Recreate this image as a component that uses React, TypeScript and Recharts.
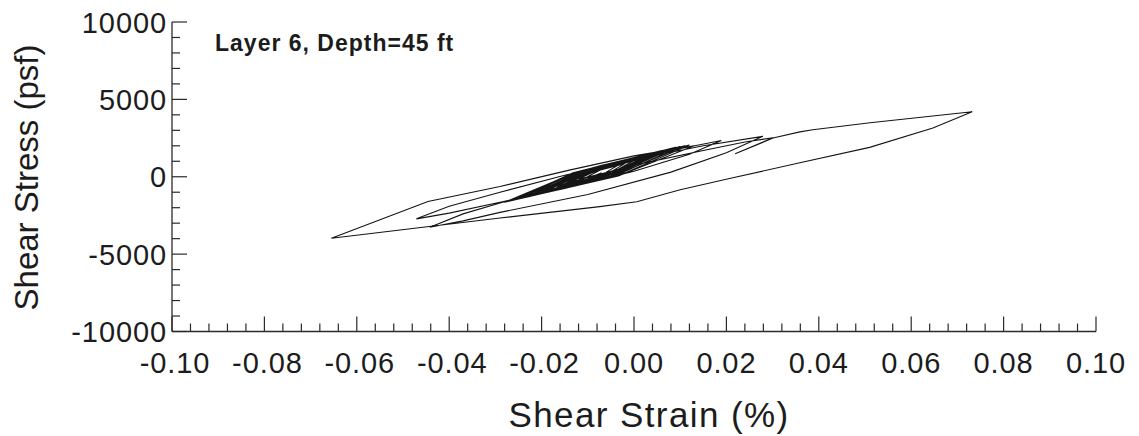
import React from 'react';
import { LineChart, Line, XAxis, YAxis, Customized } from 'recharts';

// Shear strain (%) and shear stress (psf), in time order along the hysteresis path
const strain = [
  -0.006, -0.0028, 0.002, -0.0036, -0.012, -0.0052, 0.005, -0.0042, -0.018, -0.0076,
  0.008, -0.004, -0.022, -0.0088, 0.011, -0.0038, -0.026, -0.018, -0.006, 0.008,
  0.0189, 0.012, 0.0, -0.015, -0.029, -0.04, -0.0471, -0.04, -0.029, -0.015,
  0.0, 0.015, 0.0279, 0.02, 0.008, -0.01, -0.029, -0.037, -0.0442, -0.037,
  -0.029, -0.015, 0.0, 0.015, 0.024, 0.0301, 0.0219, 0.0301, 0.0359, 0.0387,
  0.0511, 0.0732, 0.0647, 0.051, 0.0359, 0.0214, 0.01, 0.0006, -0.0074, -0.029,
  -0.0655, -0.0446, -0.029, -0.014, 0.0, 0.013, -0.0034, -0.028, -0.0128, 0.01,
  -0.004, -0.025, -0.0122, 0.007, -0.0066, -0.027, -0.0114, 0.012, -0.002, -0.023,
  -0.0118, 0.005, -0.0066, -0.024, -0.0112, 0.008, -0.0032, -0.02, -0.0104, 0.004,
  -0.0064, -0.022, -0.0108, 0.006, -0.0032, -0.017, -0.0094, 0.002, -0.0048, -0.015,
  -0.009, 0.0, -0.0048, -0.012, -0.006, 0.003, -0.0066, -0.021, -0.009, 0.009,
  -0.005, -0.026, -0.0132, 0.006, -0.004, -0.019, -0.0074, 0.01, -0.0032, -0.023,
  -0.0126, 0.003, -0.0046, -0.016, -0.0104, -0.002, -0.0052, -0.01, -0.007,
];
const stress = [
  300, 850, 1200, 420, -150, 800, 1500, 250, -700, 700,
  1800, 200, -1100, 600, 2000, 130, -1450, -550, 550, 1700,
  2340, 1450, 350, -750, -1650, -2350, -2720, -1900, -1000, 100,
  1100, 2000, 2610, 1550, 300, -1150, -2300, -2850, -3260, -2400,
  -1700, -450, 750, 1700, 2250, 2520, 1490, 2500, 2900, 3040,
  3490, 4200, 3150, 1900, 900, -70, -840, -1620, -1930, -2670,
  -3970, -1600, -630, 430, 1350, 2000, 50, -1650, 250, 1900,
  100, -1400, 300, 1700, -60, -1550, 380, 2050, 250, -1250,
  290, 1550, -30, -1350, 360, 1800, 260, -1000, 360, 1450,
  20, -1150, 380, 1650, 320, -750, 370, 1250, 230, -550,
  360, 1050, 260, -300, 640, 1350, 0, -1050, 570, 1900,
  50, -1500, 250, 1700, 260, -900, 680, 1950, 180, -1300,
  200, 1400, 240, -650, 200, 850, 270, -100, 250,
];

const xTicks = [
  -0.1, -0.096, -0.092, -0.088, -0.084, -0.08, -0.076, -0.072, -0.068, -0.064,
  -0.06, -0.056, -0.052, -0.048, -0.044, -0.04, -0.036, -0.032, -0.028, -0.024,
  -0.02, -0.016, -0.012, -0.008, -0.004, 0, 0.004, 0.008, 0.012, 0.016,
  0.02, 0.024, 0.028, 0.032, 0.036, 0.04, 0.044, 0.048, 0.052, 0.056,
  0.06, 0.064, 0.068, 0.072, 0.076, 0.08, 0.084, 0.088, 0.092, 0.096, 0.1,
];
const xMajor = [-0.1, -0.08, -0.06, -0.04, -0.02, 0, 0.02, 0.04, 0.06, 0.08, 0.1];
const xLabels = ['-0.10', '-0.08', '-0.06', '-0.04', '-0.02', '0.00', '0.02', '0.04', '0.06', '0.08', '0.10'];

const yTicks = [
  -10000, -9000, -8000, -7000, -6000, -5000, -4000, -3000, -2000, -1000, 0,
  1000, 2000, 3000, 4000, 5000, 6000, 7000, 8000, 9000, 10000,
];
const yMajor = [-10000, -5000, 0, 5000, 10000];
const yLabels = ['-10000', '-5000', '0', '5000', '10000'];

const titleText = 'Layer 6, Depth=45 ft';
const xTitle = 'Shear Strain (%)';
const yTitle = 'Shear Stress (psf)';

const data = strain.map((s, i) => ({ strain: s, stress: stress[i] }));

const FONT = '"Liberation Sans", Arial, Helvetica, sans-serif';
const INK = '#2a2a2a';
const TXT = '#1c1c1c';

const XTick = (props: any) => {
  const { x, y, payload } = props;
  const v = payload.value;
  const mi = xMajor.findIndex((m) => Math.abs(m - v) < 1e-9);
  const major = mi >= 0;
  const shift = major && xMajor[mi] < 0 ? 3 : 0;
  return (
    <g>
      <line x1={x} y1={y} x2={x} y2={y - (major ? 15 : 8)} stroke={INK} strokeWidth={1.2} />
      {major && (
        <text
          x={x + shift}
          y={y + 41}
          textAnchor="middle"
          fontSize={29}
          letterSpacing={0.9}
          fontFamily={FONT}
          fill={TXT}
        >
          {xLabels[mi]}
        </text>
      )}
    </g>
  );
};

const YTick = (props: any) => {
  const { x, y, payload } = props;
  const v = payload.value;
  const mi = yMajor.findIndex((m) => Math.abs(m - v) < 1e-9);
  const major = mi >= 0;
  return (
    <g>
      <line x1={x} y1={y} x2={x + (major ? 15 : 8)} y2={y} stroke={INK} strokeWidth={1.2} />
      {major && (
        <text
          x={x - 5}
          y={y + 10.5}
          textAnchor="end"
          fontSize={29}
          letterSpacing={0.9}
          fontFamily={FONT}
          fill={TXT}
        >
          {yLabels[mi]}
        </text>
      )}
    </g>
  );
};

const Texts = () => (
  <g>
    <text
      x={207}
      y={42.5}
      fontSize={23}
      letterSpacing={1}
      fontWeight="bold"
      fontFamily={FONT}
      fill={TXT}
    >
      {titleText}
    </text>
    <text
      x={641}
      y={419}
      textAnchor="middle"
      fontSize={35}
      letterSpacing={1.4}
      fontFamily={FONT}
      fill={TXT}
    >
      {xTitle}
    </text>
    <text
      transform="translate(30,169.5) rotate(-90)"
      textAnchor="middle"
      fontSize={33}
      fontFamily={FONT}
      fill={TXT}
    >
      {yTitle}
    </text>
  </g>
);

export default function App() {
  return (
    <div style={{ width: 1120, height: 428, background: '#fff' }}>
      <LineChart
        width={1120}
        height={428}
        data={data}
        margin={{ top: 14, right: 32, bottom: 44.5, left: 64 }}
      >
        <XAxis
          dataKey="strain"
          type="number"
          domain={[-0.1, 0.1]}
          ticks={xTicks}
          interval={0}
          height={60}
          tickSize={0}
          tickMargin={0}
          tickLine={false}
          axisLine={{ stroke: INK, strokeWidth: 1.3 }}
          tick={<XTick />}
          allowDataOverflow
        />
        <YAxis
          type="number"
          domain={[-10000, 10000]}
          ticks={yTicks}
          interval={0}
          width={100}
          tickSize={0}
          tickMargin={0}
          tickLine={false}
          axisLine={{ stroke: INK, strokeWidth: 1.3 }}
          tick={<YTick />}
          allowDataOverflow
        />
        <Line
          type="linear"
          dataKey="stress"
          stroke="#151515"
          strokeWidth={1.1}
          dot={false}
          activeDot={false}
          isAnimationActive={false}
        />
        <Customized component={Texts} />
      </LineChart>
    </div>
  );
}
